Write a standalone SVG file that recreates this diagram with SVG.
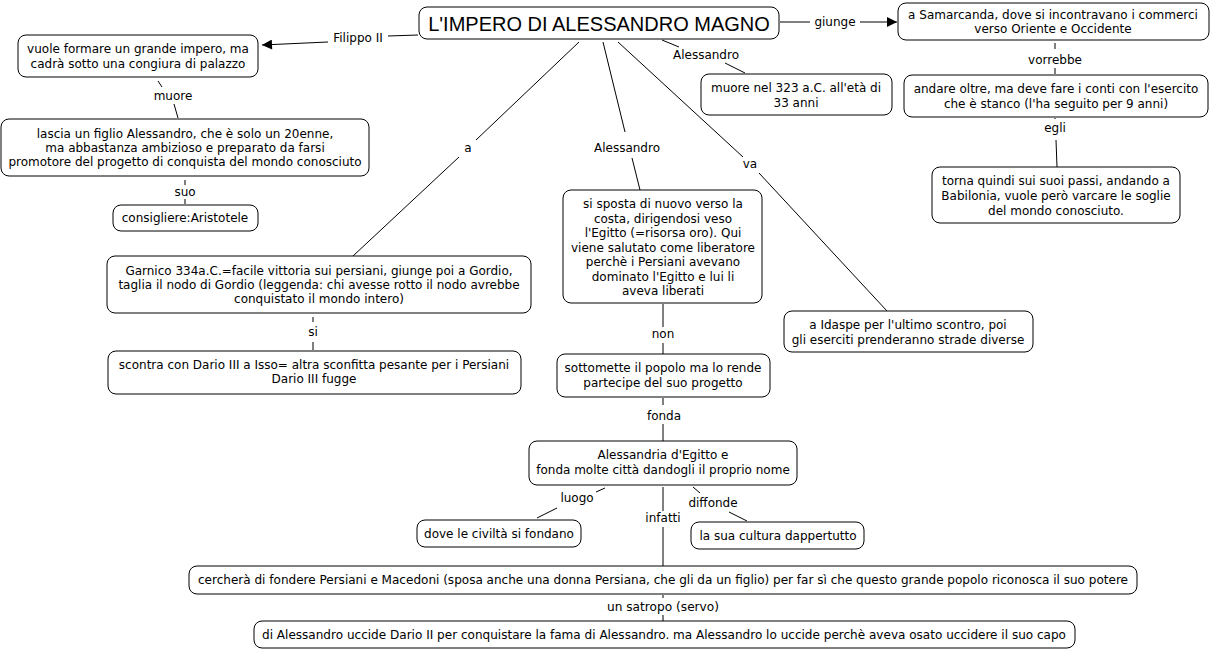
<svg xmlns="http://www.w3.org/2000/svg" width="1216" height="654" viewBox="0 0 1216 654">
<style>
rect.b{fill:#fff;stroke:#000;stroke-width:1}
text{font-family:"DejaVu Sans",Verdana,sans-serif;font-size:12px;text-anchor:middle;fill:#000}
text.title{font-family:"Liberation Sans",Arial,sans-serif;font-size:20px}
#connectors line,#connectors polyline{stroke:#000;stroke-width:1;fill:none}
</style>
<defs>
<marker id="ah" viewBox="0 0 10 10" refX="10" refY="5" markerWidth="12" markerHeight="10" markerUnits="userSpaceOnUse" orient="auto">
<path d="M0,0 L10,5 L0,10 z" fill="#000"/>
</marker>
</defs>
<rect width="1216" height="654" fill="#fff"/>
<g id="connectors">
<line x1="418" y1="35" x2="388" y2="36"/>
<line x1="328" y1="42" x2="262" y2="45" marker-end="url(#ah)"/>
<text x="358" y="42">Filippo II</text>
<line x1="158" y1="81" x2="162" y2="87"/>
<text x="173" y="100">muore</text>
<line x1="174" y1="104" x2="178" y2="118"/>
<line x1="185" y1="180" x2="185" y2="185"/>
<text x="185" y="196">suo</text>
<line x1="185" y1="199" x2="185" y2="204"/>
<line x1="780" y1="22" x2="810" y2="22"/>
<text x="835" y="26">giunge</text>
<line x1="860" y1="22" x2="897" y2="22" marker-end="url(#ah)"/>
<line x1="1055" y1="43" x2="1055" y2="49"/>
<text x="1055" y="64">vorrebbe</text>
<line x1="1055" y1="68" x2="1055" y2="74"/>
<line x1="1055" y1="118" x2="1055" y2="119"/>
<text x="1055" y="132">egli</text>
<line x1="1056" y1="140" x2="1057" y2="167"/>
<line x1="662" y1="40" x2="679" y2="47"/>
<text x="706" y="59">Alessandro</text>
<line x1="725" y1="63" x2="745" y2="73"/>
<line x1="579" y1="42" x2="476" y2="140"/>
<text x="468" y="152">a</text>
<line x1="459" y1="157" x2="353" y2="256"/>
<line x1="603" y1="42" x2="625" y2="132"/>
<text x="627" y="152">Alessandro</text>
<line x1="632" y1="158" x2="640" y2="190"/>
<line x1="618" y1="42" x2="743" y2="157"/>
<text x="750" y="168">va</text>
<line x1="759" y1="173" x2="887" y2="311"/>
<line x1="313" y1="317" x2="313" y2="322"/>
<text x="313" y="336">si</text>
<line x1="313" y1="342" x2="313" y2="350"/>
<line x1="663" y1="304" x2="663" y2="327"/>
<text x="663" y="338">non</text>
<line x1="663" y1="343" x2="663" y2="354"/>
<line x1="663" y1="398" x2="663" y2="405"/>
<text x="664" y="420">fonda</text>
<line x1="663" y1="424" x2="663" y2="441"/>
<line x1="605" y1="488" x2="596" y2="492"/>
<text x="577" y="502">luogo</text>
<line x1="557" y1="508" x2="537" y2="518"/>
<line x1="663" y1="487" x2="663" y2="511"/>
<text x="663" y="522">infatti</text>
<line x1="663" y1="527" x2="663" y2="566"/>
<line x1="693" y1="487" x2="700" y2="493"/>
<text x="713" y="507">diffonde</text>
<line x1="729" y1="512" x2="747" y2="521"/>
<line x1="663" y1="595" x2="663" y2="598"/>
<text x="663" y="611" textLength="112" lengthAdjust="spacingAndGlyphs">un satropo (servo)</text>
<line x1="663" y1="615" x2="663" y2="621"/>
</g>
<g id="n-title">
<rect class="b" x="419" y="7" width="360" height="32" rx="8"/>
<text class="title" x="599" y="31">L'IMPERO DI ALESSANDRO MAGNO</text>
</g>
<g id="n-filippo">
<rect class="b" x="18" y="35" width="240" height="42" rx="8"/>
<text x="138" y="53">vuole formare un grande impero, ma<tspan x="138" y="68">cadrà sotto una congiura di palazzo</tspan></text>
</g>
<g id="n-lascia">
<rect class="b" x="1" y="119" width="368" height="57" rx="8"/>
<text x="185" y="138">lascia un figlio Alessandro, che è solo un 20enne,<tspan x="185" y="152">ma abbastanza ambizioso e preparato da farsi</tspan><tspan x="185" y="166">promotore del progetto di conquista del mondo conosciuto</tspan></text>
</g>
<g id="n-consigliere">
<rect class="b" x="113" y="205" width="145" height="26" rx="8"/>
<text x="185" y="222">consigliere:Aristotele</text>
</g>
<g id="n-muore323">
<rect class="b" x="701" y="74" width="191" height="41" rx="8"/>
<text x="796" y="92">muore nel 323 a.C. all'età di<tspan x="796" y="107">33 anni</tspan></text>
</g>
<g id="n-samarcanda">
<rect class="b" x="898" y="3" width="311" height="37" rx="8"/>
<text x="1053" y="19">a Samarcanda, dove si incontravano i commerci<tspan x="1053" y="33">verso Oriente e Occidente</tspan></text>
</g>
<g id="n-andare">
<rect class="b" x="904" y="75" width="304" height="42" rx="8"/>
<text x="1056" y="93">andare oltre, ma deve fare i conti con l'esercito<tspan x="1056" y="108">che è stanco (l'ha seguito per 9 anni)</tspan></text>
</g>
<g id="n-torna">
<rect class="b" x="932" y="167" width="248" height="56" rx="8"/>
<text x="1056" y="185">torna quindi sui suoi passi, andando a<tspan x="1056" y="200">Babilonia, vuole però varcare le soglie</tspan><tspan x="1056" y="215">del mondo conosciuto.</tspan></text>
</g>
<g id="n-garnico">
<rect class="b" x="107" y="256" width="424" height="57" rx="8"/>
<text x="319" y="275">Garnico 334a.C.=facile vittoria sui persiani, giunge poi a Gordio,<tspan x="319" y="289">taglia il nodo di Gordio (leggenda: chi avesse rotto il nodo avrebbe</tspan><tspan x="319" y="303">conquistato il mondo intero)</tspan></text>
</g>
<g id="n-dario">
<rect class="b" x="108" y="351" width="413" height="43" rx="8"/>
<text x="314" y="369">scontra con Dario III a Isso= altra sconfitta pesante per i Persiani<tspan x="314" y="383">Dario III fugge</tspan></text>
</g>
<g id="n-egitto">
<rect class="b" x="563" y="190" width="199" height="113" rx="8"/>
<text x="663" y="208">si sposta di nuovo verso la<tspan x="663" y="222.5">costa, dirigendosi veso</tspan><tspan x="663" y="237">l'Egitto (=risorsa oro). Qui</tspan><tspan x="663" y="251.5">viene salutato come liberatore</tspan><tspan x="663" y="266">perchè i Persiani avevano</tspan><tspan x="663" y="280.5">dominato l'Egitto e lui li</tspan><tspan x="663" y="295">aveva liberati</tspan></text>
</g>
<g id="n-idaspe">
<rect class="b" x="784" y="311" width="249" height="41" rx="8"/>
<text x="908" y="329">a Idaspe per l'ultimo scontro, poi<tspan x="908" y="344">gli eserciti prenderanno strade diverse</tspan></text>
</g>
<g id="n-sottomette">
<rect class="b" x="557" y="354" width="213" height="43" rx="8"/>
<text x="663" y="372">sottomette il popolo ma lo rende<tspan x="663" y="387">partecipe del suo progetto</tspan></text>
</g>
<g id="n-alessandria">
<rect class="b" x="529" y="441" width="268" height="44" rx="8"/>
<text x="663" y="459">Alessandria d'Egitto e<tspan x="663" y="474">fonda molte città dandogli il proprio nome</tspan></text>
</g>
<g id="n-dove">
<rect class="b" x="417" y="520" width="164" height="27" rx="8"/>
<text x="499" y="538">dove le civiltà si fondano</text>
</g>
<g id="n-cultura">
<rect class="b" x="691" y="522" width="173" height="27" rx="8"/>
<text x="778" y="540">la sua cultura dappertutto</text>
</g>
<g id="n-cerchera">
<rect class="b" x="189" y="566" width="948" height="28" rx="8"/>
<text x="663" y="584" textLength="930" lengthAdjust="spacingAndGlyphs">cercherà di fondere Persiani e Macedoni (sposa anche una donna Persiana, che gli da un figlio) per far sì che questo grande popolo riconosca il suo potere</text>
</g>
<g id="n-dario2">
<rect class="b" x="254" y="621" width="821" height="27" rx="8"/>
<text x="664" y="639" textLength="804" lengthAdjust="spacingAndGlyphs">di Alessandro uccide Dario II per conquistare la fama di Alessandro. ma Alessandro lo uccide perchè aveva osato uccidere il suo capo</text>
</g>
</svg>
